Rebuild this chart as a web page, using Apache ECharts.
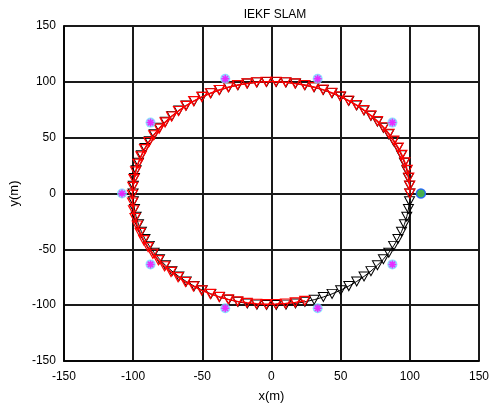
<!DOCTYPE html>
<html>
<head>
<meta charset="utf-8">
<script src="https://cdn.jsdelivr.net/npm/echarts@6/dist/echarts.min.js"></script>
<style>
  html, body { margin: 0; padding: 0; background: #fff; }
  #chart { width: 495px; height: 408px; }
</style>
</head>
<body>
<div id="chart"></div>
<script>
// axis ticks
const xTicks = [-150, -100, -50, 0, 50, 100, 150]
const yTicks = [-150, -100, -50, 0, 50, 100, 150]

// true path (black triangles), one full loop
const trueX = [100.0, 99.8, 99.0, 97.8, 96.1, 94.0, 91.4, 88.3, 84.8, 80.9, 76.6, 71.9, 66.9, 61.6, 55.9, 50.0, 43.8, 37.5, 30.9, 24.2, 17.4, 10.5, 3.5, -3.5, -10.5, -17.4, -24.2, -30.9, -37.5, -43.8, -50.0, -55.9, -61.6, -66.9, -71.9, -76.6, -80.9, -84.8, -88.3, -91.4, -94.0, -96.1, -97.8, -99.0, -99.8, -100.0, -99.8, -99.0, -97.8, -96.1, -94.0, -91.4, -88.3, -84.8, -80.9, -76.6, -71.9, -66.9, -61.6, -55.9, -50.0, -43.8, -37.5, -30.9, -24.2, -17.4, -10.5, -3.5, 3.5, 10.5, 17.4, 24.2, 30.9, 37.5, 43.8, 50.0, 55.9, 61.6, 66.9, 71.9, 76.6, 80.9, 84.8, 88.3, 91.4, 94.0, 96.1, 97.8, 99.0, 99.8]
const trueY = [0.0, 7.0, 13.9, 20.8, 27.6, 34.2, 40.7, 46.9, 53.0, 58.8, 64.3, 69.5, 74.3, 78.8, 82.9, 86.6, 89.9, 92.7, 95.1, 97.0, 98.5, 99.5, 99.9, 99.9, 99.5, 98.5, 97.0, 95.1, 92.7, 89.9, 86.6, 82.9, 78.8, 74.3, 69.5, 64.3, 58.8, 53.0, 46.9, 40.7, 34.2, 27.6, 20.8, 13.9, 7.0, 0.0, -7.0, -13.9, -20.8, -27.6, -34.2, -40.7, -46.9, -53.0, -58.8, -64.3, -69.5, -74.3, -78.8, -82.9, -86.6, -89.9, -92.7, -95.1, -97.0, -98.5, -99.5, -99.9, -99.9, -99.5, -98.5, -97.0, -95.1, -92.7, -89.9, -86.6, -82.9, -78.8, -74.3, -69.5, -64.3, -58.8, -53.0, -46.9, -40.7, -34.2, -27.6, -20.8, -13.9, -7.0]

// IEKF estimate (red triangles), stops before the loop closes
const estX = [100.0, 99.9, 99.2, 98.1, 96.4, 94.2, 91.6, 88.4, 84.9, 81.0, 76.6, 71.8, 66.7, 61.3, 55.6, 49.7, 43.5, 37.2, 30.6, 23.9, 17.1, 10.2, 3.2, -3.8, -10.8, -17.7, -24.5, -31.2, -37.8, -44.1, -50.3, -56.2, -61.9, -67.2, -72.2, -76.9, -81.2, -85.1, -88.6, -91.7, -94.3, -96.5, -98.2, -99.4, -100.2, -100.5, -100.4, -99.7, -98.6, -97.0, -94.9, -92.3, -89.2, -85.7, -81.7, -77.3, -72.6, -67.5, -62.1, -56.4, -50.4, -44.2, -37.8, -31.2, -24.5, -17.7, -10.8, -3.8, 3.2, 10.2, 17.2, 24.1]
const estY = [0.0, 7.2, 14.2, 21.1, 27.9, 34.6, 41.1, 47.4, 53.5, 59.3, 64.8, 70.0, 74.8, 79.3, 83.3, 87.0, 90.2, 93.0, 95.3, 97.2, 98.6, 99.6, 100.1, 100.1, 99.6, 98.6, 97.1, 95.1, 92.7, 89.8, 86.5, 82.7, 78.5, 73.9, 69.0, 63.7, 58.1, 52.2, 46.1, 39.8, 33.3, 26.6, 19.8, 12.9, 5.9, -1.1, -8.1, -15.0, -21.9, -28.7, -35.3, -41.8, -48.0, -54.0, -59.7, -65.1, -70.2, -74.9, -79.3, -83.2, -86.8, -89.9, -92.6, -94.8, -96.6, -97.9, -98.7, -99.1, -99.0, -98.5, -97.5, -96.1]

// landmarks (magenta stars)
const lmX = [108.0, 87.4, 33.4, -33.4, -87.4, -108.0, -87.4, -33.4, 33.4, 87.4]
const lmY = [0.0, 63.5, 102.7, 102.7, 63.5, 0.0, -63.5, -102.7, -102.7, -63.5]

// current robot position (green dot)
const robotX = [108.0]
const robotY = [0.0]

const zip = (a, b) => a.map((v, i) => [v, b[i]])

const chart = echarts.init(document.getElementById('chart'))
const font = '"Liberation Sans", Arial, sans-serif'
const downTri = 'path://M0,0 L10,0 L5,9 Z'
const star = 'path://M5,0 L5,10 M0,5 L10,5 M1.5,1.5 L8.5,8.5 M8.5,1.5 L1.5,8.5'

const axisCommon = (ticks) => ({
    type: 'value',
    min: ticks[0],
    max: ticks[ticks.length - 1],
    interval: 50,
    axisLine: { show: true, onZero: false, lineStyle: { color: '#000', width: 1.5 } },
    axisTick: { show: false },
    splitLine: { show: true, lineStyle: { color: '#1a1a1a', width: 2 } },
    nameTextStyle: { color: '#000', fontSize: 13, fontFamily: font }
})

chart.setOption({
    animation: false,
    title: {
        text: 'IEKF SLAM',
        left: 270,
        top: 4,
        textAlign: 'center',
        textStyle: { color: '#000', fontSize: 12, fontWeight: 'normal', fontFamily: font }
    },
    grid: {
        left: 62,
        right: 16,
        top: 26,
        bottom: 37,
        show: true,
        borderColor: '#000',
        borderWidth: 1.5,
        containLabel: false
    },
    xAxis: Object.assign(axisCommon(xTicks), {
        name: 'x(m)',
        nameLocation: 'middle',
        nameGap: 29,
        axisLabel: { color: '#000', fontSize: 12, fontFamily: font, margin: 10 }
    }),
    yAxis: Object.assign(axisCommon(yTicks), {
        name: 'y(m)',
        nameLocation: 'middle',
        nameGap: 40,
        axisLabel: { color: '#000', fontSize: 12, fontFamily: font, margin: 8 }
    }),
    series: [
        {
            name: 'true',
            type: 'line',
            data: zip(trueX, trueY),
            symbol: downTri,
            symbolSize: [10, 9],
            showAllSymbol: true,
            lineStyle: { color: '#000', width: 1 },
            itemStyle: { color: 'rgba(0,0,0,0)', borderColor: '#000', borderWidth: 1 },
            z: 2
        },
        {
            name: 'estimate',
            type: 'line',
            data: zip(estX, estY),
            symbol: downTri,
            symbolSize: [10, 9],
            showAllSymbol: true,
            lineStyle: { color: '#ff0000', width: 1.5 },
            itemStyle: { color: 'rgba(0,0,0,0)', borderColor: '#ff0000', borderWidth: 1.2 },
            z: 3
        },
        {
            name: 'halo',
            type: 'scatter',
            data: zip(lmX, lmY),
            symbol: 'circle',
            symbolSize: 10,
            itemStyle: { color: '#77ddff', opacity: 0.85 },
            z: 4
        },
        {
            name: 'landmarks',
            type: 'scatter',
            data: zip(lmX, lmY),
            symbol: star,
            symbolSize: 8,
            itemStyle: { color: 'rgba(0,0,0,0)', borderColor: '#ff00ff', borderWidth: 1.5 },
            z: 5
        },
        {
            name: 'robot',
            type: 'scatter',
            data: zip(robotX, robotY),
            symbol: 'circle',
            symbolSize: 9,
            itemStyle: { color: '#22cc22', borderColor: '#2255ff', borderWidth: 1.5 },
            z: 6
        }
    ]
})

window.addEventListener('resize', () => chart.resize())
</script>
</body>
</html>
